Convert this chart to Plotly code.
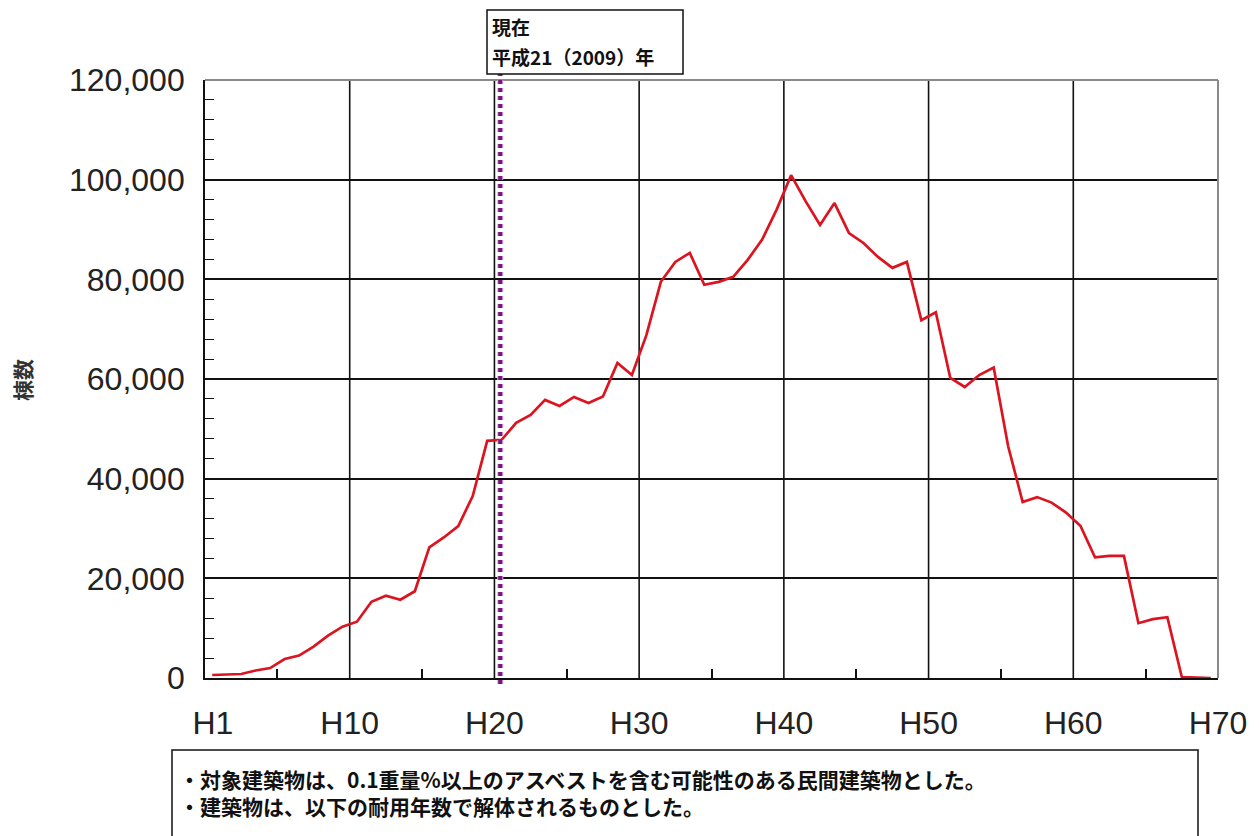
import plotly.graph_objects as go

# ---- data ----
years = [f"H{i}" for i in range(1, 71)]
counts = [
    600, 700, 800, 1500, 2000, 3800, 4500, 6300, 8500, 10300,
    11300, 15300, 16500, 15700, 17400, 26200, 28200, 30500, 36500, 47600,
    47800, 51200, 52800, 55800, 54600, 56400, 55200, 56500, 63200, 60800,
    68800, 79500, 83500, 85300, 78900, 79500, 80500, 83900, 88000, 94000,
    100900, 95700, 90900, 95300, 89300, 87300, 84500, 82300, 83500, 71800,
    73400, 60200, 58400, 60800, 62300, 46500, 35300, 36300, 35200, 33200,
    30500, 24200, 24500, 24500, 11000, 11800, 12200, 200, 100, 0,
]
x_tick_labels = ["H1", "H10", "H20", "H30", "H40", "H50", "H60", "H70"]
y_tick_values = [0, 20000, 40000, 60000, 80000, 100000, 120000]
current_year_label = "H21"
y_title = "棟数"
note_box_title = ["現在", "平成21（2009）年"]
note_lines = [
    "・対象建築物は、0.1重量%以上のアスベストを含む可能性のある民間建築物とした。",
    "・建築物は、以下の耐用年数で解体されるものとした。",
]

# category n is centred at n-0.5 on a 0..70 numeric axis
xpos = [i - 0.5 for i in range(1, len(years) + 1)]
x_tick_pos = [0.55] + [int(t[1:]) for t in x_tick_labels[1:]]
grid_x = [10, 20, 30, 40, 50, 60]
minor_x = [5, 15, 25, 35, 45, 55, 65]
cur_x = xpos[years.index(current_year_label)]

JP = "Noto Sans CJK JP"
LAT = "Liberation Sans, Arial, sans-serif"

# plot area in page pixels: left 205, right 1218, top 80, bottom 678 (1013 x 598)
def px(p):
    return (p - 205) / 1013


def py(p):
    return (678 - p) / 598


fig = go.Figure()
fig.add_trace(go.Scatter(
    x=xpos, y=counts, mode="lines",
    line=dict(color="#dc1420", width=2.7),
    hoverinfo="skip", showlegend=False,
))

shapes = []
for gx in grid_x:
    shapes.append(dict(type="line", xref="x", yref="paper", x0=gx, x1=gx, y0=0, y1=1,
                       line=dict(color="#111", width=1.6), layer="below"))
# frame top / right (gray)
shapes.append(dict(type="line", xref="paper", yref="paper", x0=0, x1=1, y0=1, y1=1,
                   line=dict(color="#8a8a8a", width=2), layer="above"))
shapes.append(dict(type="line", xref="paper", yref="paper", x0=1, x1=1, y0=0, y1=1,
                   line=dict(color="#8a8a8a", width=2), layer="above"))
# current year dotted line
shapes.append(dict(type="line", xref="x", yref="paper", x0=cur_x - 0.1, x1=cur_x - 0.1,
                   y0=-0.01, y1=1.01, line=dict(color="#f09af0", width=6, dash="4px,4px"),
                   layer="above"))
shapes.append(dict(type="line", xref="x", yref="paper", x0=cur_x - 0.1, x1=cur_x - 0.1,
                   y0=-0.01, y1=1.01, line=dict(color="#6e1f73", width=4, dash="4px,4px"),
                   layer="above"))
# box for "現在"
shapes.append(dict(type="rect", xref="paper", yref="paper",
                   x0=px(487), x1=px(683), y0=py(74), y1=py(10),
                   line=dict(color="#111", width=1.5), fillcolor="white", layer="above"))
# bottom note box
shapes.append(dict(type="rect", xref="paper", yref="paper",
                   x0=px(172), x1=px(1198), y0=py(750), y1=py(870),
                   line=dict(color="#111", width=1.5), fillcolor="white", layer="above"))

annotations = [
    dict(text=note_box_title[0], xref="paper", yref="paper",
         x=px(490), y=py(27), xanchor="left", yanchor="middle",
         showarrow=False, font=dict(family=JP, size=19, color="#111", weight="bold")),
    dict(text=note_box_title[1], xref="paper", yref="paper",
         x=px(490), y=py(56), xanchor="left", yanchor="middle",
         showarrow=False, font=dict(family=JP, size=19, color="#111", weight="bold")),
    dict(text=y_title, xref="paper", yref="paper", x=px(22), y=py(380),
         xanchor="center", yanchor="middle", textangle=-90, showarrow=False,
         font=dict(family=JP, size=21, color="#333", weight="bold")),
    dict(text="<br>".join(note_lines), xref="paper", yref="paper",
         x=px(177), y=py(762), xanchor="left", yanchor="top", align="left",
         showarrow=False,
         font=dict(family=JP, size=21, color="#111", weight="bold")),
]

fig.update_layout(
    width=1251, height=828,
    margin=dict(l=197, r=33, t=72, b=158, pad=0),
    paper_bgcolor="white", plot_bgcolor="white",
    shapes=shapes, annotations=annotations,
    xaxis=dict(
        range=[0, 70], tickmode="array", tickvals=x_tick_pos, ticktext=x_tick_labels,
        ticks="", showgrid=False, zeroline=False,
        showline=True, linecolor="#111", linewidth=1.8,
        tickfont=dict(family=LAT, size=32, color="#222"),
        ticklabelstandoff=16,
        minor=dict(tickmode="array", tickvals=minor_x, ticks="inside", ticklen=9,
                   tickcolor="#111", tickwidth=1.5, showgrid=False),
    ),
    yaxis=dict(
        range=[0, 120000], tickmode="array", tickvals=y_tick_values, tickformat=",d",
        ticks="", showgrid=True, gridcolor="#111", gridwidth=1.6, zeroline=False,
        showline=True, linecolor="#111", linewidth=1.8,
        tickfont=dict(family=LAT, size=32, color="#222"),
        ticklabelstandoff=12,
        minor=dict(dtick=4000, ticks="inside", ticklen=9, tickcolor="#111", tickwidth=1.2,
                   showgrid=False),
    ),
)

fig.write_html("out.html")
